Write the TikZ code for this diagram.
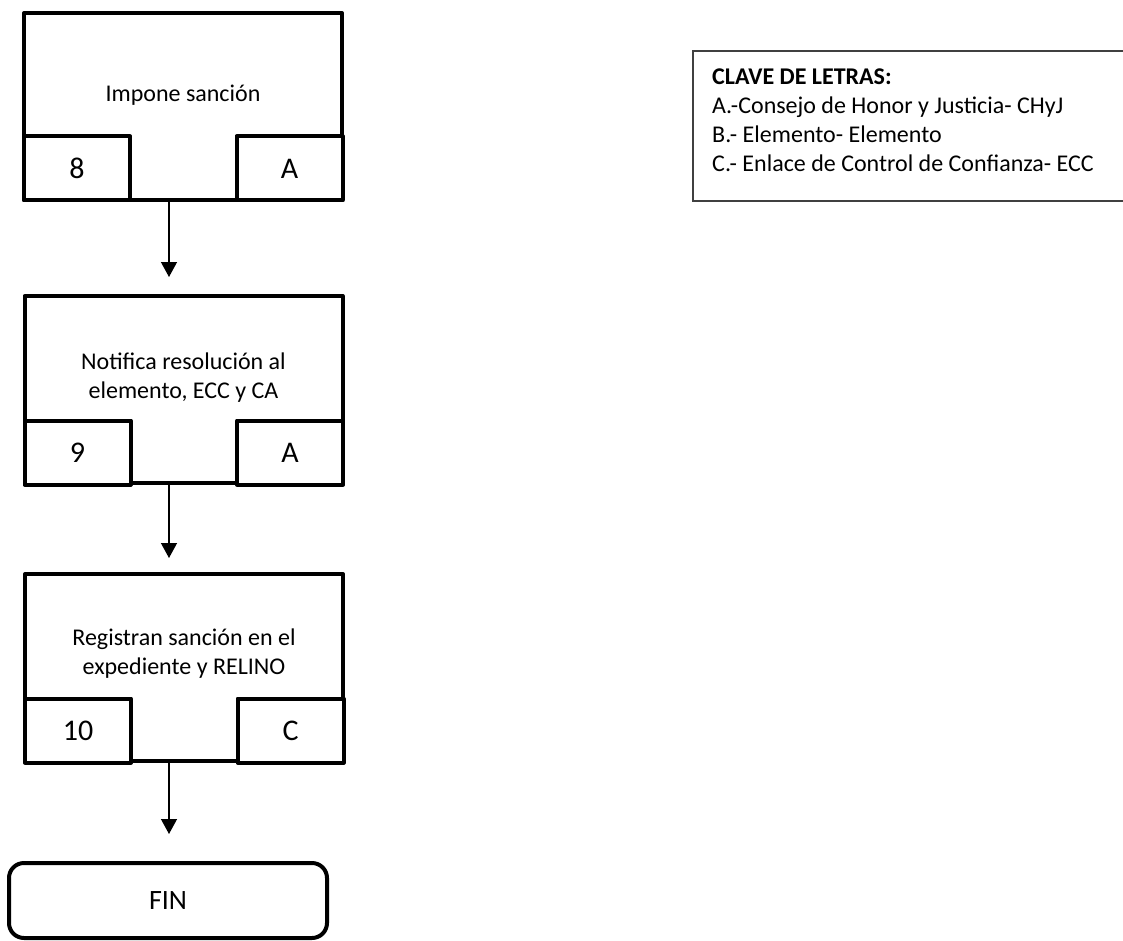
\documentclass[tikz,border=0pt]{standalone}
\usepackage{fontspec}
\setmainfont{Carlito}
\usetikzlibrary{arrows.meta,calc}
\begin{document}
\begin{tikzpicture}[x=1pt,y=-1pt,
  mainbox/.style={draw,line width=4pt,line join=round,minimum width=318pt,minimum height=187pt,inner sep=0pt},
  subbox/.style={draw,fill=white,line width=4pt,line join=round,minimum width=106pt,minimum height=64pt,inner sep=0pt,font=\fontsize{30}{36}\selectfont},
  boxtext/.style={align=center,font=\fontsize{24}{29}\selectfont,inner sep=0pt},
  endbox/.style={draw,line width=4pt,rounded corners=15pt,minimum width=318pt,minimum height=75pt,inner sep=0pt,font=\fontsize{28}{34}\selectfont},
  arr/.style={line width=1.3pt,-{Triangle[width=16pt,length=15pt]}},
  legendframe/.style={line width=1.5pt,draw=black!75}]
\useasboundingbox (0,0) rectangle (1123,941);
% Box 1
\node[mainbox] (b1) at (183,106.5) {};
\node[boxtext] (t1) at (183,95) {Impone sanción};
\node[subbox] (n1) at (77,168.5) {8};
\node[subbox] (l1) at (289.5,168.5) {A};
% Box 2
\node[mainbox] (b2) at (183.5,389.5) {};
\node[boxtext] (t2) at (183.5,378) {Notifica resolución al\\elemento, ECC y CA};
\node[subbox] (n2) at (77.5,452.5) {9};
\node[subbox] (l2) at (290,452.5) {A};
% Box 3
\node[mainbox] (b3) at (184,667.5) {};
\node[boxtext] (t3) at (184,654) {Registran sanción en el\\expediente y RELINO};
\node[subbox] (n3) at (78,730.5) {10};
\node[subbox] (l3) at (290.5,730.5) {C};
% FIN
\node[endbox] (fin) at (168,900.5) {FIN};
% arrows
\coordinate (e1) at (169,277);
\coordinate (e2) at (169,558);
\coordinate (e3) at (169,834);
\draw[arr] (b1.south -| e1) -- (e1);
\draw[arr] (b2.south -| e2) -- (e2);
\draw[arr] (b3.south -| e3) -- (e3);
% legend
\draw[legendframe] (1124,51) -- (693,51) -- (693,201) -- (1124,201);
\node[anchor=west,align=left,inner sep=0pt,font=\fontsize{24}{29}\selectfont] (leg) at (712,120)
 {\textbf{CLAVE DE LETRAS:}\\A.-Consejo de Honor y Justicia- CHyJ\\B.- Elemento- Elemento\\C.- Enlace de Control de Confianza- ECC};
\end{tikzpicture}
\end{document}
